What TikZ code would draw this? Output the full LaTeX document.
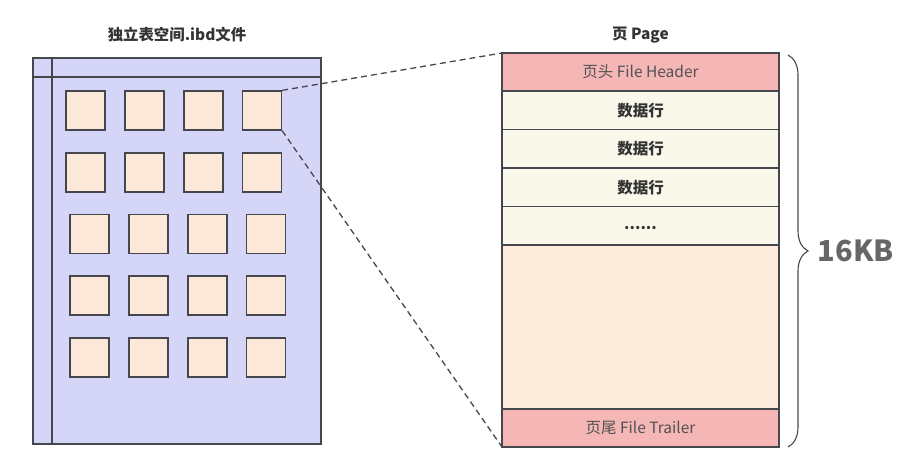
\documentclass[tikz,border=0pt]{standalone}
\usepackage{fontspec}
\setmainfont{Noto Sans CJK SC}
\usetikzlibrary{positioning,decorations.pathreplacing}

\definecolor{fileblue}{HTML}{D4D5F7}
\definecolor{blockfill}{HTML}{FCE8D8}
\definecolor{edgegray}{HTML}{46464F}
\definecolor{hdrpink}{HTML}{F5B7B6}
\definecolor{rowcream}{HTML}{FAF8EA}
\definecolor{freefill}{HTML}{FCEADB}
\definecolor{txtgray}{HTML}{333333}
\definecolor{sizegray}{HTML}{666666}

\begin{document}
\begin{tikzpicture}[x=1pt, y=-1pt, line width=1.3pt,
  title/.style={font=\fontsize{15.4}{18}\selectfont\bfseries, text=txtgray},
  blk/.style={draw=edgegray, fill=blockfill, minimum size=39pt, inner sep=0pt},
  pagerow/.style={draw=edgegray, minimum width=277pt, minimum height=38.5pt,
    inner sep=0pt, outer sep=0pt, text=txtgray!85!white, font=\fontsize{15.5}{18}\selectfont},
  datarow/.style={pagerow, fill=rowcream, text=txtgray, font=\fontsize{15.5}{18}\selectfont\bfseries}]
\useasboundingbox (0,0) rectangle (901,461);

% tablespace file
\node[title] (ftitle) at (177,35) {独立表空间.ibd文件};
\node[draw=edgegray, fill=fileblue, minimum width=288pt, minimum height=386pt,
  inner sep=0pt, outer sep=0pt] (file) at (177,251) {};
\draw[edgegray] ([xshift=19pt]file.north west) -- ([xshift=19pt]file.south west);
\draw[edgegray] ([yshift=-19pt]file.north west) -- ([yshift=-19pt]file.north east);
\foreach \r/\y/\dx in {1/110.5/0, 2/172.5/0, 3/234/4, 4/295.5/4, 5/357.5/4}{
  \foreach \c/\x in {1/85.5, 2/144.5, 3/203.5, 4/262}{
    \node[blk] (b\r\c) at (\x+\dx,\y) {};
  }
}

% one page
\node[title] (ptitle) at (640.5,35) {页 Page};
\node[pagerow, fill=hdrpink, minimum height=38pt] (hdr) at (640.5,72) {页头 File Header};
\node[datarow, below=0pt of hdr] (row1) {数据行};
\node[datarow, below=0pt of row1] (row2) {数据行};
\node[datarow, below=0pt of row2] (row3) {数据行};
\node[datarow, below=0pt of row3] (more) {\smash{\raisebox{-4pt}{......}}};
\node[pagerow, fill=freefill, minimum height=164pt, below=0pt of more] (free) {};
\node[pagerow, fill=hdrpink, minimum height=38pt, below=0pt of free] (trl) {页尾 File Trailer};

% zoom lines
\draw[edgegray, dash pattern=on 6pt off 4pt] (b14.north east) -- (hdr.north west);
\draw[edgegray, dash pattern=on 6pt off 4pt] (b14.south east) -- (trl.south west);

% size brace
\coordinate (btop) at ([xshift=9pt,yshift=-2pt]hdr.north east);
\coordinate (bbot) at ([xshift=9pt]trl.south east);
\draw[edgegray, line width=1.1pt, decorate, decoration={brace, amplitude=20pt}]
  (btop) -- node[right=26pt, font=\fontsize{29}{33}\selectfont\bfseries, text=sizegray] (size) {16KB} (bbot);
\end{tikzpicture}
\end{document}
